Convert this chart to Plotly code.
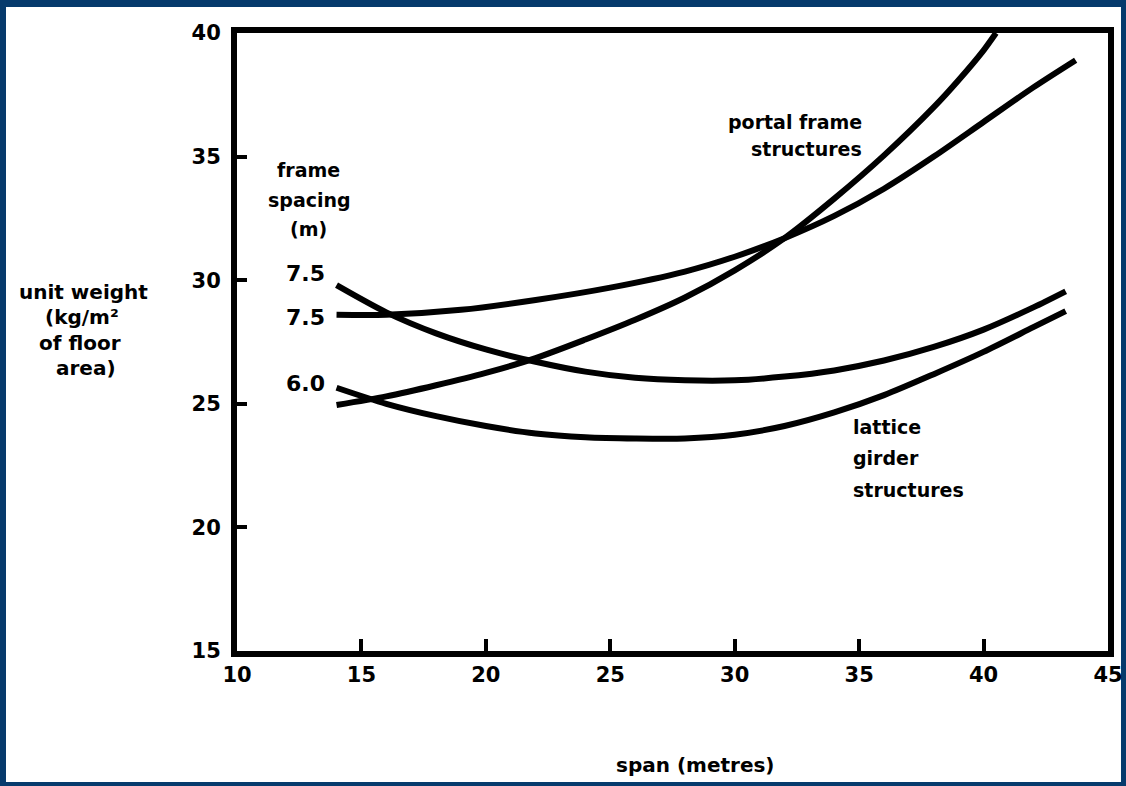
import plotly.graph_objects as go

# ---- data ----
span_portal_75 = [14, 16, 19, 22, 25, 28, 30, 32, 34, 36, 38, 40, 42, 43.7]
weight_portal_75 = [28.6, 28.6, 28.8, 29.2, 29.7, 30.35, 30.95, 31.7, 32.6, 33.7, 35.0, 36.4, 37.8, 38.9]

span_portal_60 = [14, 16, 18, 20, 22, 24, 26, 28, 30, 32, 34, 36, 38, 39, 40, 40.5]
weight_portal_60 = [24.95, 25.3, 25.75, 26.25, 26.85, 27.6, 28.4, 29.3, 30.4, 31.7, 33.3, 35.05, 37.0, 38.1, 39.3, 40.0]

span_lattice = [14, 16, 18, 20, 22, 24, 26, 28, 30, 32, 34, 36, 38, 40, 42, 43.3]
weight_lattice_75 = [29.8, 28.7, 27.85, 27.2, 26.7, 26.3, 26.05, 25.95, 25.95, 26.1, 26.35, 26.75, 27.3, 28.0, 28.9, 29.55]
weight_lattice_60 = [25.65, 25.0, 24.5, 24.1, 23.8, 23.65, 23.6, 23.6, 23.75, 24.1, 24.65, 25.35, 26.2, 27.1, 28.1, 28.75]

x_ticks = [10, 15, 20, 25, 30, 35, 40, 45]
y_ticks = [15, 20, 25, 30, 35, 40]
spacing_labels = ["7.5", "7.5", "6.0"]

# ---- layout geometry ----
W, H = 1126, 786
L, R, T, B = 237, 18, 33, 135
PW, PH = W - L - R, H - T - B


def px(xp):
    return (xp - L) / PW


def py(yp):
    return (H - B - yp) / PH


FONT = "DejaVu Sans"
NAVY = "#063a6c"

fig = go.Figure()
line_style = dict(color="black", width=6, shape="spline", smoothing=0.8)
for xs, ys in [
    (span_portal_75, weight_portal_75),
    (span_portal_60, weight_portal_60),
    (span_lattice, weight_lattice_75),
    (span_lattice, weight_lattice_60),
]:
    fig.add_trace(go.Scatter(x=xs, y=ys, mode="lines", line=line_style,
                             showlegend=False, hoverinfo="skip"))


def ann(text, xp, yp, size=19, xanchor="center"):
    return dict(text=text, x=px(xp), y=py(yp), xref="paper", yref="paper",
                xanchor=xanchor, yanchor="middle", showarrow=False,
                font=dict(family=FONT, size=size, color="black", weight="bold"))


annotations = [
    # y-axis title
    ann("unit weight", 83, 292, 20),
    ann("(kg/m²", 82, 317, 20),
    ann("of floor", 80, 343, 20),
    ann("area)", 86, 368, 20),
    # x-axis title
    ann("span (metres)", 695, 765, 20),
    # frame spacing legend
    ann("frame", 308, 170),
    ann("spacing", 309, 200),
    ann("(m)", 308, 229),
    ann(spacing_labels[0], 327, 273, 22, "right"),
    ann(spacing_labels[1], 327, 317, 22, "right"),
    ann(spacing_labels[2], 327, 383, 22, "right"),
    # curve group labels
    ann("portal frame", 864, 122, 19, "right"),
    ann("structures", 864, 149, 19, "right"),
    ann("lattice", 851, 427, 19, "left"),
    ann("girder", 851, 458, 19, "left"),
    ann("structures", 851, 490, 19, "left"),
]

tickfont = dict(family=FONT, size=21, color="black", weight="bold")

fig.update_layout(
    width=W, height=H,
    margin=dict(l=L, r=R, t=T, b=B, pad=0, autoexpand=False),
    paper_bgcolor=NAVY,
    plot_bgcolor="white",
    annotations=annotations,
    shapes=[
        dict(type="rect", xref="paper", yref="paper", layer="below",
             x0=px(6), x1=px(1121), y0=py(782), y1=py(7),
             fillcolor="white", line=dict(width=0)),
    ],
    xaxis=dict(range=[10, 45], tickvals=x_ticks, ticktext=[str(v) for v in x_ticks],
               ticks="inside", ticklen=12, tickwidth=4, tickcolor="black",
               showline=True, linewidth=6, linecolor="black", mirror=True,
               showgrid=False, zeroline=False, tickfont=tickfont, fixedrange=True,
               automargin=False, ticklabeloverflow="allow"),
    yaxis=dict(range=[15, 40], tickvals=y_ticks, ticktext=[str(v) for v in y_ticks],
               ticks="inside", ticklen=10, tickwidth=4, tickcolor="black",
               showline=True, linewidth=6, linecolor="black", mirror=True,
               showgrid=False, zeroline=False, tickfont=tickfont,
               ticklabelstandoff=6, fixedrange=True, automargin=False,
               ticklabeloverflow="allow"),
)

fig.write_html(
    "out.html",
    config={"displayModeBar": False},
    post_script="document.body.style.margin='0';document.body.style.overflow='hidden';",
)
